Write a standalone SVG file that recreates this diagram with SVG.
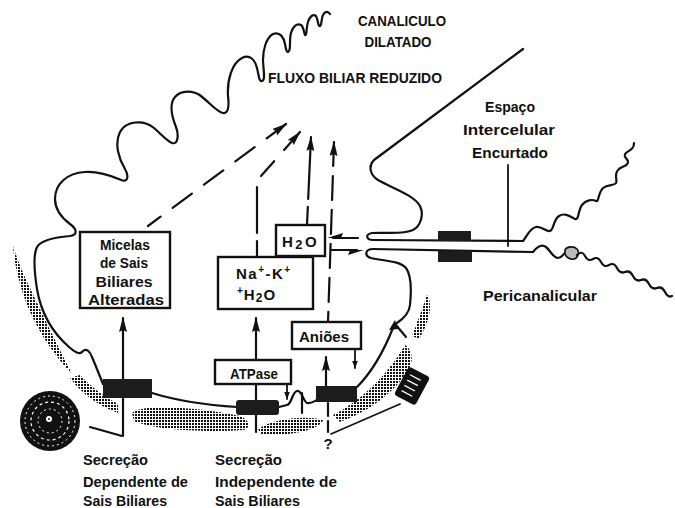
<svg xmlns="http://www.w3.org/2000/svg" width="675" height="508" viewBox="0 0 675 508">
  <defs>
    <pattern id="stipple" width="3" height="3" patternUnits="userSpaceOnUse">
      <rect width="2" height="2" fill="#111"/>
    </pattern>
    <marker id="ah" viewBox="0 0 15 8" refX="14" refY="4" markerWidth="15" markerHeight="8" markerUnits="userSpaceOnUse" orient="auto-start-reverse">
      <path d="M0,0 L15,4 L0,8 L2,4 z" fill="#111"/>
    </marker>
    <marker id="ahs" viewBox="0 0 8 6" refX="7.5" refY="3" markerWidth="8" markerHeight="6" markerUnits="userSpaceOnUse" orient="auto-start-reverse">
      <path d="M0,0 L8,3 L0,6 z" fill="#111"/>
    </marker>
  </defs>
  <style>
    .ln{fill:none;stroke:#111;stroke-width:2.2;stroke-linecap:round;stroke-linejoin:round}
    .thin{stroke-width:1.8}
    .box{fill:#fff;stroke:#111;stroke-width:2.4}
    .blk{fill:#1c1c1c}
    .dot{fill:url(#stipple)}
    .dA{stroke-dasharray:24 15}
    .dB{stroke-dasharray:24 10}
    text{font-family:"Liberation Sans",Arial,sans-serif;font-weight:bold;font-size:15px;fill:#111}
  </style>
  <rect width="675" height="508" fill="#fff"/>

  <!-- stippled cytoplasm bands -->
  <g id="stippling">
    <path class="dot" d="M13,246 C17,290 35,335 72,374 C60,350 45,320 30,288 C22,272 17,258 13,246 Z"/>
    <path class="dot" d="M70,378 Q88,402 118,413 L118,404 Q98,394 80,375 Z"/>
    <path class="dot" d="M132,413 C140,403 200,407 240,416 C249,419 251,428 244,430 C200,433 152,429 134,421 Z"/>
    <path class="dot" d="M258,429 C272,419 305,415 323,420 C320,430 290,436 262,435 Z"/>
    <path class="dot" d="M333,415 C356,404 386,378 405,345 C412,349 414,360 409,369 C395,392 370,411 340,422 Z"/>
    <path class="dot" d="M412,336 C418,320 423,307 427,295 C433,303 430,322 419,339 Z"/>
  </g>

  <!-- membranes -->
  <g id="membranes">
    <path class="ln" d="M103,384 C99,374 95,364 92,357 C90,351 86,348 83,351 C80,355 76,353 69,347 C53,333 41,313 37,289 C34,270 33,255 37,247 C42,239 58,237 70,236 C78,235 77,229 70,224 C62,218 55,210 55,199 C55,184 67,173 85,172 C101,171 114,177 121,180 C128,183 129,176 125,169 C119,159 114,144 120,132 C126,121 143,119 154,128 C161,134 167,141 172,143 C178,145 179,135 176,127 C172,117 169,104 175,97 C181,90 193,90 201,96 C210,103 217,112 223,113 C229,114 229,104 228,96 C227,80 232,63 242,58 C250,54 255,60 257,68 C259,76 259,82 262,81 C266,80 263,68 263,60 C263,50 266,38 273,34 C280,31 284,38 285,44 C286,50 287,54 289,51 C291,48 289,40 291,33 C293,26 297,23 301,25 C304,27 304,34 305,35 C307,36 306,28 308,22 C310,16 313,14 316,16 C318,19 318,27 320,26 C322,25 321,19 323,15 C325,11 328,11 330,14"/>
    <path class="ln" d="M152,393 C178,401 205,405 237,407"/>
    <path class="ln" d="M279,407 L287,405 C292,404 292,392 297,391 C302,390 303,401 307,403 C310,404 313,402 317,400"/>
    <path class="ln" d="M302,393 L302,413"/>
    <path class="ln" d="M357,387 C372,372 385,348 393,328"/>
    <polygon points="395,320 389,330 398,329" fill="#111"/>
    <path class="ln" d="M396,325 L406,337"/>
    <path class="ln" d="M533,252 L373,249 C365,249 364,256 371,258 C385,261 400,261 406,268 C412,276 411,295 410,305 C409,314 403,319 397,323"/>
    <path class="ln" d="M523,241 L373,240 C366,240 365,234 372,233 C385,232 402,235 413,230 C421,226 424,214 420,206 C414,195 392,188 378,180 C370,175 368,166 374,160 L523,49"/>
    <path class="ln" d="M523,241 C527,236 530,228 536,227 C542,226 546,232 550,231 C554,230 553,220 559,216 C565,212 571,217 575,219 C579,221 578,210 582,205 C586,200 592,199 596,201 C599,202 598,193 603,188 C608,184 614,186 616,183 C618,180 613,174 619,169 C623,166 628,166 628,162 C628,158 622,157 626,153 C629,150 634,150 634,143"/>
    <path class="ln" d="M533,252 C537,247 542,244 546,247 C550,250 553,258 558,258 C562,258 563,254 566,252"/>
    <path d="M565,250 C567,246 574,246 577,249 C580,252 578,258 574,259 C570,260 566,257 565,254 Z" fill="#bbb" stroke="#111" stroke-width="1.6"/>
    <path class="ln" d="M577,255 q5,-5 8,1 t8,3 t8,3 t8,3 t8,3 t8,4 t8,4 t8,4 t8,4 t8,4 t8,4 t7,4"/>
    <path class="ln thin" d="M508,165 L508,246"/>
    <!-- tight-junction plaques -->
    <rect class="blk" x="438" y="231" width="33" height="10"/>
    <rect class="blk" x="438" y="251" width="34" height="11"/>
  </g>

  <!-- connectors -->
  <g id="connectors">
    <path class="ln" d="M123,436 L123,318" marker-end="url(#ah)"/>
    <path class="ln" d="M90,427 L122,436"/>
    <path class="ln" d="M256,432 L256,384"/>
    <path class="ln" d="M256,360 L256,318" marker-end="url(#ah)"/>
    <path class="ln" d="M326,387 L326,357" marker-end="url(#ah)"/>
    <path class="ln" d="M328,403 L328,432" stroke-dasharray="13 5"/>
    <path class="ln thin" d="M331,434 L400,404"/>
    <path class="ln thin" d="M287,384 L287,399" marker-end="url(#ahs)"/>
    <path class="ln thin" d="M355,349 L355,368" marker-end="url(#ahs)"/>
    <path class="ln thin" d="M292,287 L292,302" marker-end="url(#ahs)"/>
    <path class="ln dA" d="M286,124 L148,226" marker-start="url(#ah)"/>
    <path class="ln dA" d="M300,132 L261,176" marker-start="url(#ah)"/>
    <path class="ln" d="M257,187 L257,233"/>
    <path class="ln" d="M257,241 L257,256"/>
    <path class="ln" d="M311,137 L307,225" stroke-dasharray="62 8" marker-start="url(#ah)"/>
    <path class="ln dB" d="M334,142 L328,322" marker-start="url(#ah)"/>
    <path class="ln" d="M358,238 L333,238"/>
    <polygon points="327,238 343,233 341,238" fill="#111"/>
    <path class="ln" d="M331,250 L357,250"/>
    <polygon points="364,250 348,255 350,250" fill="#111"/>
  </g>

  <!-- transport sites on the membrane -->
  <g id="carriers">
    <rect class="blk" x="103" y="379" width="49" height="19"/>
    <rect class="blk" x="236" y="400" width="43" height="15" rx="3"/>
    <rect class="blk" x="316" y="386" width="41" height="16"/>
  </g>

  <!-- nucleus-like body, lower left -->
  <g id="body-left">
    <circle cx="50" cy="421" r="30" fill="#111"/>
    <circle cx="50" cy="421" r="25" fill="none" stroke="#fff" stroke-width="1" stroke-dasharray="2 3"/>
    <circle cx="50" cy="421" r="19" fill="none" stroke="#fff" stroke-width="1.2" stroke-dasharray="3 3"/>
    <circle cx="50" cy="421" r="12" fill="none" stroke="#fff" stroke-width="1" stroke-dasharray="2 3"/>
    <circle cx="49" cy="419" r="3" fill="#fff"/>
    <circle cx="49" cy="419" r="1" fill="#111"/>
  </g>

  <!-- coiled body, lower right -->
  <g id="body-right" transform="translate(412,386) rotate(28)">
    <rect x="-12" y="-16" width="24" height="32" rx="3" fill="#111"/>
    <path d="M-7,-9 L5,-9 M-7,-3 L5,-3 M-7,3 L5,3 M-7,9 L5,9" stroke="#fff" stroke-width="1.3" fill="none"/>
  </g>

  <g id="micelas">
    <rect class="box" x="80" y="232" width="90" height="76"/>
    <text x="125" y="250" text-anchor="middle" textLength="50" lengthAdjust="spacingAndGlyphs">Micelas</text>
    <text x="124" y="268" text-anchor="middle" textLength="48" lengthAdjust="spacingAndGlyphs">de Sais</text>
    <text x="124" y="287" text-anchor="middle" textLength="57" lengthAdjust="spacingAndGlyphs">Biliares</text>
    <text x="126" y="305" text-anchor="middle" textLength="76" lengthAdjust="spacingAndGlyphs">Alteradas</text>
  </g>

  <g id="nak">
    <rect class="box" x="218" y="257" width="95" height="52"/>
    <text x="236" y="279" letter-spacing="1.5">Na<tspan font-size="10" dy="-6">+</tspan><tspan dy="6">-K</tspan><tspan font-size="10" dy="-6">+</tspan></text>
    <text x="237" y="300" letter-spacing="1"><tspan font-size="10" dy="-6">+</tspan><tspan dy="6">H</tspan><tspan font-size="12" dy="2">2</tspan><tspan dy="-2">O</tspan></text>
  </g>

  <g id="h2o">
    <rect class="box" x="276" y="225" width="49" height="31"/>
    <text x="282" y="247" letter-spacing="2.5">H<tspan font-size="13" dy="2">2</tspan><tspan dy="-2">O</tspan></text>
  </g>

  <g id="atpase">
    <rect class="box" x="215" y="360" width="76" height="24"/>
    <text x="254" y="379" text-anchor="middle" textLength="48" lengthAdjust="spacingAndGlyphs">ATPase</text>
  </g>

  <g id="anioes">
    <rect class="box" x="292" y="322" width="69" height="27"/>
    <text x="324" y="342" text-anchor="middle" textLength="50" lengthAdjust="spacingAndGlyphs">Aniões</text>
  </g>

  <g id="labels">
    <text x="402" y="26" text-anchor="middle" textLength="88" lengthAdjust="spacingAndGlyphs">CANALICULO</text>
    <text x="398" y="47" text-anchor="middle" textLength="67" lengthAdjust="spacingAndGlyphs">DILATADO</text>
    <text x="355" y="83" text-anchor="middle" textLength="174" lengthAdjust="spacingAndGlyphs">FLUXO BILIAR REDUZIDO</text>
    <text x="510" y="112" text-anchor="middle" textLength="50" lengthAdjust="spacingAndGlyphs">Espaço</text>
    <text x="509" y="135" text-anchor="middle" textLength="92" lengthAdjust="spacingAndGlyphs">Intercelular</text>
    <text x="510" y="158" text-anchor="middle" textLength="76" lengthAdjust="spacingAndGlyphs">Encurtado</text>
    <text x="540" y="301" text-anchor="middle" textLength="114" lengthAdjust="spacingAndGlyphs">Pericanalicular</text>
    <text x="328" y="449" text-anchor="middle">?</text>
    <text x="83" y="465" textLength="65" lengthAdjust="spacingAndGlyphs">Secreção</text>
    <text x="83" y="487" textLength="105" lengthAdjust="spacingAndGlyphs">Dependente de</text>
    <text x="83" y="506" textLength="84" lengthAdjust="spacingAndGlyphs">Sais Biliares</text>
    <text x="215" y="465" textLength="67" lengthAdjust="spacingAndGlyphs">Secreção</text>
    <text x="215" y="487" textLength="122" lengthAdjust="spacingAndGlyphs">Independente de</text>
    <text x="215" y="506" textLength="85" lengthAdjust="spacingAndGlyphs">Sais Biliares</text>
  </g>
</svg>
